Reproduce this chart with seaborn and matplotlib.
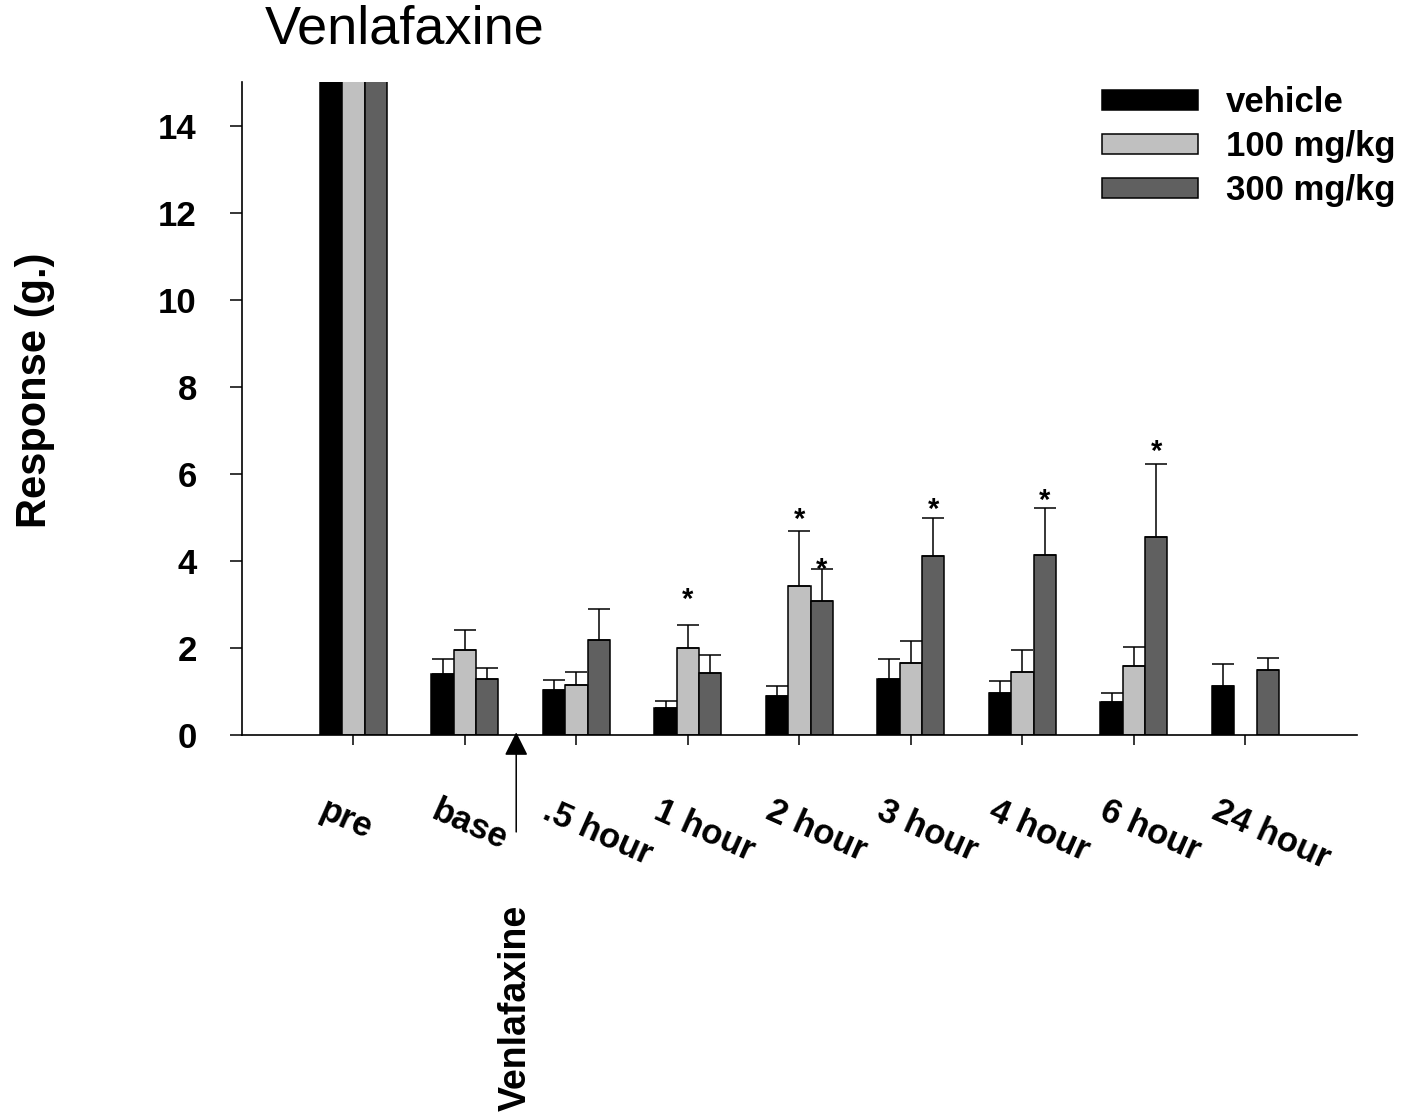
import matplotlib
matplotlib.use('Agg')
import matplotlib.pyplot as plt
import matplotlib.transforms as mtransforms
import numpy as np
import pandas as pd
import seaborn as sns

# categories and groups
times = ['pre', 'base', '.5 hour', '1 hour', '2 hour', '3 hour', '4 hour', '6 hour', '24 hour']
groups = ['vehicle', '100 mg/kg', '300 mg/kg']
colors = ['#000000', '#c0c0c0', '#606060']

# mean response (g.), pre bars run off the top of the axis
vehicle = [20.0, 1.40, 1.02, 0.61, 0.89, 1.28, 0.95, 0.74, 1.12]
dose100 = [20.0, 1.94, 1.13, 2.00, 3.42, 1.64, 1.44, 1.58, np.nan]
dose300 = [20.0, 1.28, 2.17, 1.42, 3.06, 4.11, 4.13, 4.54, 1.49]

# upper error bars
vehicle_err = [np.nan, 0.34, 0.23, 0.16, 0.22, 0.45, 0.28, 0.22, 0.50]
dose100_err = [np.nan, 0.47, 0.31, 0.51, 1.26, 0.52, 0.51, 0.43, np.nan]
dose300_err = [np.nan, 0.24, 0.72, 0.40, 0.75, 0.88, 1.07, 1.69, 0.26]

# significance marks: (time, group, height of the star)
stars = [('1 hour', '100 mg/kg', 3.26), ('2 hour', '100 mg/kg', 5.10),
         ('2 hour', '300 mg/kg', 3.95), ('3 hour', '300 mg/kg', 5.33),
         ('4 hour', '300 mg/kg', 5.54), ('6 hour', '300 mg/kg', 6.67)]

means = [vehicle, dose100, dose300]
errs = [vehicle_err, dose100_err, dose300_err]

df = pd.concat([pd.DataFrame({'time': times, 'group': g, 'response': m, 'err': e})
                for g, m, e in zip(groups, means, errs)], ignore_index=True)
df_bars = df.dropna(subset=['response'])

sns.set_style('ticks')
plt.rcParams['font.family'] = ['Liberation Sans', 'DejaVu Sans']
for key in ['text.color', 'axes.labelcolor', 'xtick.color', 'ytick.color', 'axes.edgecolor']:
    plt.rcParams[key] = 'black'

fig = plt.figure(figsize=(14.14, 11.18), dpi=100)
ax = fig.add_axes([0.1711, 0.343, 0.7885, 0.5835])

sns.barplot(data=df_bars, x='time', y='response', hue='group', order=times,
            hue_order=groups, palette=colors, saturation=1, width=0.6,
            edgecolor='black', linewidth=1.1, errorbar=None, ax=ax)

# error bars (upper only)
bw = 0.2
for j, g in enumerate(groups):
    sub = df[(df.group == g) & df.err.notna()]
    xs = [times.index(t) + (j - 1) * bw for t in sub.time]
    ax.errorbar(xs, sub.response, yerr=[np.zeros(len(sub)), sub.err], fmt='none',
                ecolor='black', elinewidth=1.1, capsize=8, capthick=1.1, zorder=1)

for t, g, y in stars:
    x = times.index(t) + (groups.index(g) - 1) * bw
    ax.annotate('*', xy=(x, y), xytext=(0, -11), textcoords='offset points',
                ha='center', va='baseline', fontsize=21, fontweight='bold')

ax.set_xlim(-1, 9)
ax.set_ylim(0, 15)
ax.set_yticks([0, 2, 4, 6, 8, 10, 12, 14])
sns.despine(ax=ax)
for s in ['left', 'bottom']:
    ax.spines[s].set_linewidth(1.2)

ax.tick_params(axis='y', direction='out', length=8.5, width=1.1, pad=24, labelsize=25)
ax.tick_params(axis='x', direction='out', length=7, width=1.1, pad=36, labelsize=25)
for lab in ax.get_yticklabels():
    lab.set_fontweight('bold')
shift = mtransforms.ScaledTranslation(-0.25, 0, fig.dpi_scale_trans)
for lab in ax.get_xticklabels():
    lab.set_fontweight('bold')
    lab.set_rotation(-24)
    lab.set_ha('left')
    lab.set_rotation_mode('anchor')
    lab.set_transform(lab.get_transform() + shift)

ax.set_xlabel('')
ax.set_ylabel('Response (g.)', fontsize=30, fontweight='bold')
ax.yaxis.set_label_coords(-0.168, 0.528)

fig.text(265 / 1414, 1 - 44 / 1118, 'Venlafaxine', fontsize=39, ha='left', va='baseline')

# dosing arrow
ax.annotate('', xy=(1.46, 0.05), xytext=(1.46, -2.24),
            arrowprops=dict(arrowstyle='-|>', color='black', lw=1.1,
                            mutation_scale=36, shrinkA=0, shrinkB=0),
            annotation_clip=False)
ax.text(1.46, -3.92, 'Venlafaxine', rotation=90, ha='center', va='top',
        fontsize=27, fontweight='bold', clip_on=False)

handles, labels = ax.get_legend_handles_labels()
ax.legend(handles, labels, loc='upper left', bbox_to_anchor=(1102 / 1414, 1 - 86 / 1118),
          bbox_transform=fig.transFigure, frameon=False, borderpad=0, borderaxespad=0,
          handlelength=2.77, handleheight=0.5, handletextpad=0.8, labelspacing=0.32,
          prop={'size': 25, 'weight': 'bold'})

fig.savefig('out.png', dpi=100)
